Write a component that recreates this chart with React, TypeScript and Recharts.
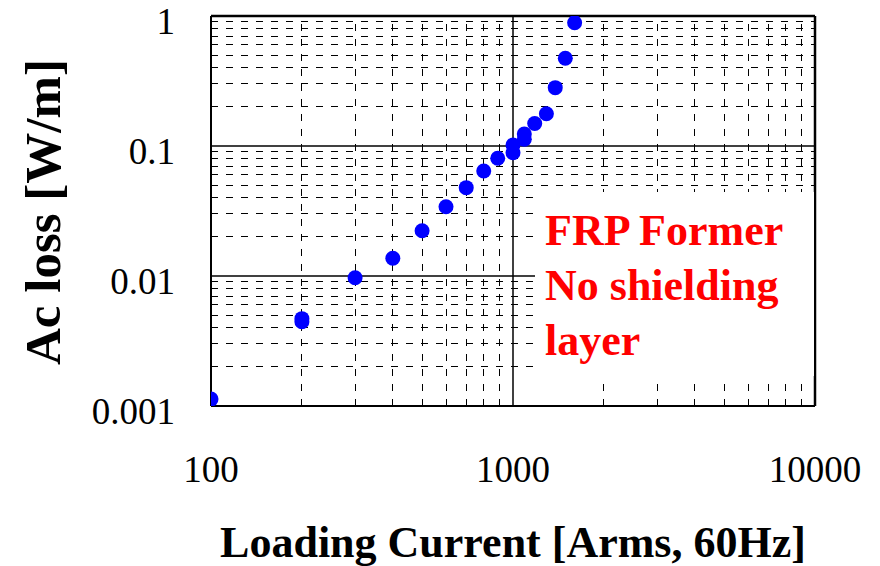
import React from 'react';
import { ScatterChart, Scatter, XAxis, YAxis, ReferenceLine } from 'recharts';

// Loading current [Arms]
const current = [100, 200, 200, 300, 400, 500, 600, 700, 800, 890, 1000, 1000, 1090, 1090, 1180, 1290, 1380, 1490, 1600];
// Ac loss [W/m]
const loss = [0.00113, 0.0047, 0.00445, 0.0097, 0.0137, 0.0223, 0.0341, 0.0478, 0.0643, 0.0805, 0.0888, 0.1018, 0.1127, 0.1237, 0.149, 0.177, 0.281, 0.473, 0.888];

const xTicks = [100, 1000, 10000];
const xTickLabels = ['100', '1000', '10000'];
const yTicks = [0.001, 0.01, 0.1, 1];
const yTickLabels = ['0.001', '0.01', '0.1', '1'];

const xMinorGrid = [200, 300, 400, 500, 600, 700, 800, 900, 2000, 3000, 4000, 5000, 6000, 7000, 8000, 9000];
const xMajorGrid = [1000];
const yMinorGrid = [
  0.002, 0.003, 0.004, 0.005, 0.006, 0.007, 0.008, 0.009,
  0.02, 0.03, 0.04, 0.05, 0.06, 0.07, 0.08, 0.09,
  0.2, 0.3, 0.4, 0.5, 0.6, 0.7, 0.8, 0.9,
];
const yMajorGrid = [0.01, 0.1];

const xTitle = 'Loading Current [Arms, 60Hz]';
const yTitle = 'Ac loss [W/m]';
const noteLines = ['FRP Former', 'No shielding', 'layer'];

const data = current.map((c, i) => ({ x: c, y: loss[i] }));

const SERIF = '"Liberation Serif", "Times New Roman", serif';

const XTick = (props: any) => {
  const { x, y, payload } = props;
  const idx = xTicks.indexOf(payload.value);
  return (
    <text x={x} y={y + 76} textAnchor="middle" fontSize={37} fontFamily={SERIF} fill="#000">
      {idx >= 0 ? xTickLabels[idx] : String(payload.value)}
    </text>
  );
};

const YTick = (props: any) => {
  const { x, y, payload } = props;
  const idx = yTicks.indexOf(payload.value);
  return (
    <text x={x - 36} y={y + 17.5} textAnchor="end" fontSize={37} fontFamily={SERIF} fill="#000">
      {idx >= 0 ? yTickLabels[idx] : String(payload.value)}
    </text>
  );
};

const Dot = (props: any) => {
  const { cx, cy } = props;
  return <circle cx={cx} cy={cy} r={7.5} fill="#0000ff" />;
};

export default function App() {
  return (
    <div style={{ position: 'absolute', left: 0, top: 0, width: 880, height: 566, background: '#fff' }}>
      <ScatterChart width={880} height={566} margin={{ top: 16, right: 65, bottom: 0, left: 0 }}>
        <XAxis
          type="number"
          dataKey="x"
          scale="log"
          domain={[100, 10000]}
          ticks={xTicks}
          allowDataOverflow
          height={160}
          tickSize={0}
          tickMargin={0}
          tickLine={false}
          axisLine={{ stroke: '#000', strokeWidth: 2 }}
          tick={<XTick />}
          interval={0}
          label={{
            content: () => (
              <text x={513} y={557} textAnchor="middle" fontSize={44} fontWeight="bold" fontFamily={SERIF} fill="#000">
                {xTitle}
              </text>
            ),
          }}
        />
        <YAxis
          type="number"
          dataKey="y"
          scale="log"
          domain={[0.001, 1]}
          ticks={yTicks}
          allowDataOverflow
          width={211}
          tickSize={0}
          tickMargin={0}
          tickLine={false}
          axisLine={{ stroke: '#000', strokeWidth: 2 }}
          tick={<YTick />}
          interval={0}
          label={{
            content: () => (
              <text
                transform="translate(60,212) rotate(-90)"
                textAnchor="middle"
                fontSize={51}
                fontWeight="bold"
                fontFamily={SERIF}
                fill="#000"
              >
                {yTitle}
              </text>
            ),
          }}
        />
        {yMinorGrid.map((v) => (
          <ReferenceLine key={'ym' + v} y={v} stroke="#000" strokeWidth={1} strokeDasharray="7 8" shapeRendering="crispEdges" />
        ))}
        {xMinorGrid.map((v) => (
          <ReferenceLine key={'xm' + v} x={v} stroke="#000" strokeWidth={1} strokeDasharray="7 8" shapeRendering="crispEdges" />
        ))}
        {yMajorGrid.map((v) => (
          <ReferenceLine key={'yM' + v} y={v} stroke="#000" strokeWidth={1.5} />
        ))}
        {xMajorGrid.map((v) => (
          <ReferenceLine key={'xM' + v} x={v} stroke="#000" strokeWidth={1.5} />
        ))}
        <ReferenceLine y={1} stroke="#000" strokeWidth={2.5} />
        <ReferenceLine x={10000} stroke="#000" strokeWidth={2.5} />
        <Scatter data={data} shape={<Dot />} isAnimationActive={false} />
      </ScatterChart>
      <svg
        style={{ position: 'absolute', left: 535, top: 192 }}
        width={279}
        height={184}
      >
        <rect x={0} y={0} width={279} height={184} fill="#fff" />
        {noteLines.map((t, i) => (
          <text key={t} x={10} y={53 + i * 55} fontSize={44} fontWeight="bold" fontFamily={SERIF} fill="#ff0000">
            {t}
          </text>
        ))}
      </svg>
    </div>
  );
}
